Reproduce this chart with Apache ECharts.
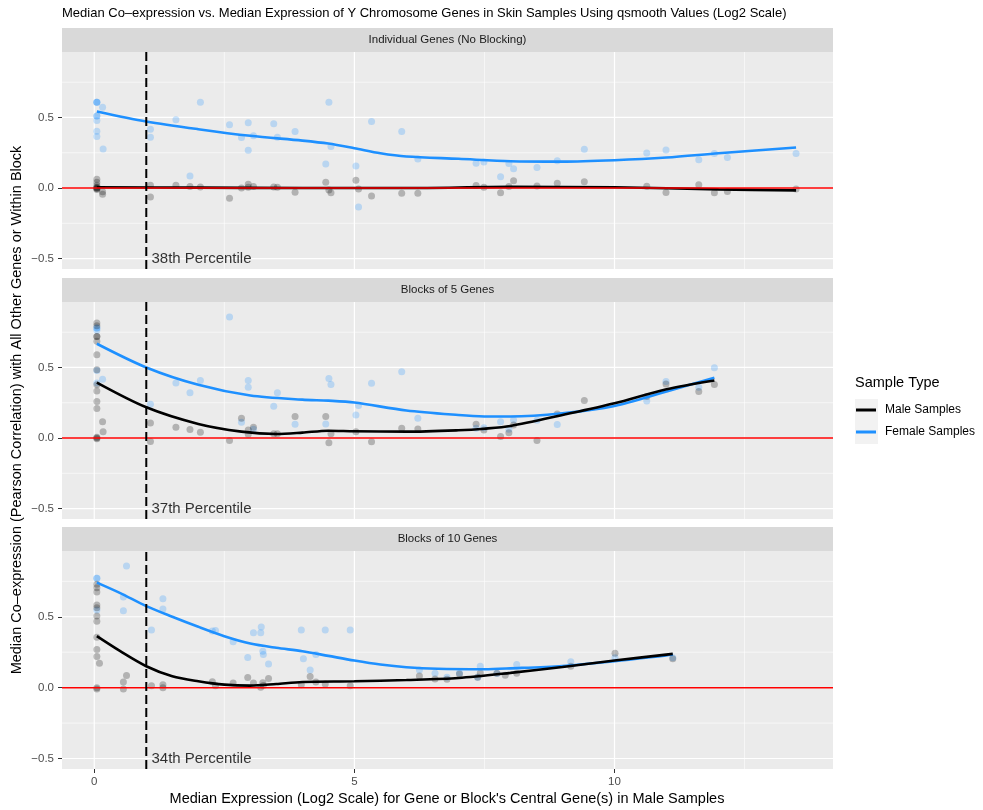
<!DOCTYPE html>
<html>
<head>
<meta charset="utf-8">
<title>Median Co-expression vs. Median Expression</title>
<script src="https://cdn.jsdelivr.net/npm/echarts@6/dist/echarts.min.js"></script>
<style>
html, body { margin: 0; padding: 0; background: #fff; }
#chart { width: 983px; height: 810px; }
</style>
</head>
<body>
<div id="chart"></div>
<script>
// tick positions (ggplot major / minor grid)
var xMajor = [0, 5, 10];
var xMinor = [2.5, 7.5, 12.5];
var yMajor = [-0.5, 0, 0.5];
var yMinor = [-0.25, 0.25, 0.75];

var panelTitles = ['Individual Genes (No Blocking)', 'Blocks of 5 Genes', 'Blocks of 10 Genes'];
var percentileLabels = ['38th Percentile', '37th Percentile', '34th Percentile'];
var cutoffX = 1;
var percentileY = -0.5;

// ---- Individual genes ----
var indivFemale = [[0.05,0.607],[0.05,0.607],[0.05,0.607],[0.16,0.573],[0.05,0.51],[0.05,0.51],[0.05,0.479],[0.05,0.403],[0.05,0.365],[0.17,0.277],
  [1.08,0.417],[1.08,0.36],[1.57,0.483],[2.04,0.607],[1.84,0.085],[2.6,0.448],[2.83,0.358],[2.96,0.462],[3.06,0.37],[2.96,0.268],
  [3.45,0.455],[3.52,0.36],[3.86,0.40],[4.51,0.607],[4.45,0.171],[4.55,0.294],[5.03,0.156],[5.08,-0.135],[5.33,0.472],[5.91,0.40],
  [6.22,0.206],[7.34,0.175],[7.49,0.185],[7.81,0.08],[7.97,0.173],[8.06,0.137],[8.51,0.145],[8.9,0.194],[9.42,0.275],[10.62,0.249],
  [10.99,0.27],[11.62,0.2],[11.92,0.244],[12.17,0.216],[13.49,0.244]];
var indivMale = [[0.05,0.062],[0.05,0.04],[0.05,0.02],[0.05,0.005],[0.05,-0.005],[0.05,-0.01],[0.05,0.0],[0.05,0.0],[0.16,-0.026],[0.16,-0.045],
  [1.08,0.02],[1.08,-0.064],[1.57,0.02],[1.84,0.01],[2.04,0.007],[2.6,-0.073],[2.83,0.0],[2.96,0.026],[2.96,0.005],[3.06,0.01],
  [3.45,0.007],[3.52,0.005],[3.86,-0.03],[4.45,0.04],[4.51,-0.014],[4.55,-0.033],[5.03,0.055],[5.08,-0.007],[5.33,-0.057],[5.91,-0.038],
  [6.22,-0.038],[7.34,0.017],[7.49,0.005],[7.81,-0.033],[7.97,0.01],[8.06,0.052],[8.51,0.014],[8.9,0.033],[9.42,0.045],[10.62,0.012],
  [10.99,-0.031],[11.62,0.024],[11.92,-0.033],[12.17,-0.024],[13.49,-0.007]];
var indivFemaleFit = [[0.05,0.543],[1,0.472],[2,0.417],[3,0.37],[4,0.336],[4.5,0.315],[5,0.282],[5.5,0.246],[6,0.223],[7,0.207],
  [8,0.19],[9,0.187],[10,0.197],[11,0.216],[12,0.246],[13.49,0.287]];
var indivMaleFit = [[0.05,0.005],[2,0.003],[4,0.0],[6,0.0],[8,0.008],[10,0.005],[12,-0.01],[13.49,-0.017]];

// ---- Blocks of 5 genes ----
var block5Female = [[0.05,0.78],[0.05,0.78],[0.05,0.763],[0.05,0.479],[0.05,0.39],[0.16,0.417],[1.08,0.24],[1.57,0.39],[1.84,0.32],[2.04,0.408],
  [2.6,0.858],[2.83,0.111],[2.96,0.408],[2.96,0.36],[3.06,0.062],[3.45,0.225],[3.52,0.32],[3.86,0.097],[4.45,0.1],[4.51,0.422],
  [4.55,0.38],[5.03,0.163],[5.08,0.23],[5.33,0.389],[5.91,0.469],[6.22,0.14],[7.34,0.069],[7.49,0.073],[7.81,0.116],[7.97,0.062],
  [8.06,0.128],[8.51,0.126],[8.9,0.095],[10.62,0.263],[10.99,0.4],[11.62,0.36],[11.92,0.498]];
var block5Male = [[0.05,0.815],[0.05,0.796],[0.05,0.72],[0.05,0.72],[0.05,0.685],[0.05,0.59],[0.05,0.483],[0.05,0.377],[0.05,0.334],[0.05,0.258],
  [0.05,0.21],[0.05,0.005],[0.05,-0.005],[0.05,0.0],[0.16,0.116],[0.17,0.045],[1.08,0.107],[1.08,-0.024],[1.57,0.076],[1.84,0.06],
  [2.04,0.04],[2.6,-0.017],[2.83,0.14],[2.96,0.057],[2.96,0.026],[3.06,0.076],[3.45,0.031],[3.52,0.031],[3.86,0.152],[4.45,0.152],
  [4.51,-0.033],[4.55,0.031],[5.03,0.045],[5.33,-0.026],[5.91,0.069],[6.22,0.064],[7.34,0.097],[7.49,0.057],[7.81,0.01],[7.97,0.038],
  [8.06,0.092],[8.51,-0.017],[8.9,0.171],[9.42,0.265],[10.62,0.294],[10.99,0.382],[11.62,0.33],[11.92,0.379]];
var block5FemaleFit = [[0.05,0.668],[1,0.5],[2,0.377],[3,0.301],[4,0.272],[4.5,0.265],[5,0.252],[6,0.195],[7,0.163],[7.5,0.153],
  [8,0.152],[9,0.175],[10,0.227],[11,0.33],[11.92,0.427]];
var block5MaleFit = [[0.05,0.393],[1,0.218],[2,0.1],[2.83,0.045],[3.5,0.028],[4,0.038],[4.5,0.052],[5,0.048],[6,0.045],[7,0.055],
  [7.5,0.066],[8,0.085],[9,0.163],[10,0.246],[11,0.346],[11.92,0.408]];

// ---- Blocks of 10 genes ----
var block10Female = [[0.05,0.771],[0.05,0.771],[0.05,0.547],[0.62,0.858],[0.56,0.64],[0.56,0.542],[1.1,0.406],[1.32,0.627],[1.32,0.554],[2.27,0.399],
  [2.33,0.403],[2.67,0.323],[2.95,0.212],[3.06,0.387],[3.2,0.387],[3.21,0.427],[3.24,0.257],[3.25,0.233],[3.35,0.167],[3.98,0.406],
  [4.02,0.203],[4.15,0.125],[4.26,0.233],[4.44,0.406],[4.92,0.406],[6.25,0.125],[6.55,0.101],[6.78,0.073],[7.02,0.104],[7.42,0.151],
  [7.37,0.073],[7.74,0.099],[8.12,0.163],[9.16,0.182],[10.01,0.21],[11.12,0.21]];
var block10Male = [[0.05,0.729],[0.05,0.705],[0.05,0.675],[0.05,0.583],[0.05,0.564],[0.05,0.505],[0.05,0.469],[0.05,0.356],[0.05,0.269],[0.05,0.219],
  [0.1,0.172],[0.05,0.0],[0.05,-0.01],[0.56,0.04],[0.56,-0.01],[0.62,0.085],[1.1,0.014],[1.32,0.02],[1.32,0.0],[2.27,0.042],
  [2.33,0.014],[2.67,0.033],[2.95,0.071],[3.06,0.033],[3.2,0.002],[3.24,0.035],[3.25,0.015],[3.35,0.064],[3.98,0.021],[4.15,0.078],
  [4.26,0.04],[4.44,0.026],[4.92,0.014],[6.25,0.083],[6.55,0.061],[6.78,0.059],[7.02,0.097],[7.37,0.073],[7.42,0.104],[7.74,0.101],
  [7.9,0.087],[8.12,0.101],[9.16,0.151],[10.01,0.243],[11.12,0.203]];
var block10FemaleFit = [[0.05,0.741],[0.5,0.667],[1,0.575],[1.5,0.5],[2,0.429],[2.5,0.363],[3,0.311],[3.5,0.281],[4,0.257],[4.5,0.224],
  [5,0.191],[5.5,0.163],[6,0.144],[6.6,0.133],[7.5,0.13],[8,0.136],[9,0.153],[10,0.186],[11.12,0.233]];
var block10MaleFit = [[0.05,0.363],[0.5,0.257],[1,0.151],[1.5,0.08],[2,0.045],[2.5,0.021],[3,0.014],[3.5,0.026],[4,0.04],[5,0.045],
  [6,0.054],[7,0.068],[8,0.104],[9,0.146],[10,0.191],[11.12,0.238]];

var panels = [
  { male: indivMale, female: indivFemale, maleFit: indivMaleFit, femaleFit: indivFemaleFit },
  { male: block5Male, female: block5Female, maleFit: block5MaleFit, femaleFit: block5FemaleFit },
  { male: block10Male, female: block10Female, maleFit: block10MaleFit, femaleFit: block10FemaleFit }
];

var FONT = 'Liberation Sans, Arial, sans-serif';
var PLOT_LEFT = 62, PLOT_W = 771;
var gridTops = [52, 302, 551];
var gridHeights = [217, 217, 218];
var X_MIN = -0.62, X_MAX = 14.2;
var Y_MIN = -0.574, Y_MAX = 0.964;

var myChart = echarts.init(document.getElementById('chart'));

var grids = [], xAxes = [], yAxes = [], series = [], graphics = [];

function yFmt(v) {
  if (v === 0) return '0.0';
  return (v < 0 ? '\u2212' : '') + Math.abs(v).toFixed(1);
}

// straight guide line (gridline / reference line) across the panel, through the axis scales
function guide(i, isVertical, v, style, z) {
  return {
    type: 'line', xAxisIndex: i, yAxisIndex: i, silent: true, z: z,
    symbol: 'none', showSymbol: false, lineStyle: style,
    data: isVertical ? [[v, Y_MIN], [v, Y_MAX]] : [[X_MIN, v], [X_MAX, v]]
  };
}

panels.forEach(function (p, i) {
  var last = i === panels.length - 1;
  grids.push({
    left: PLOT_LEFT, top: gridTops[i], width: PLOT_W, height: gridHeights[i],
    show: true, backgroundColor: '#EBEBEB', borderWidth: 0
  });
  xAxes.push({
    gridIndex: i, type: 'value', min: X_MIN, max: X_MAX, position: 'bottom',
    splitLine: { show: false },
    axisLine: { show: false, onZero: false },
    axisTick: { show: last, customValues: xMajor, length: 4, lineStyle: { color: '#333', width: 1 } },
    axisLabel: { show: last, customValues: xMajor, color: '#4D4D4D', fontSize: 11.5, fontFamily: FONT, margin: 7 }
  });
  yAxes.push({
    gridIndex: i, type: 'value', min: Y_MIN, max: Y_MAX, position: 'left',
    splitLine: { show: false },
    axisLine: { show: false, onZero: false },
    axisTick: { show: true, customValues: yMajor, length: 4, lineStyle: { color: '#333', width: 1 } },
    axisLabel: { customValues: yMajor, formatter: yFmt, color: '#4D4D4D', fontSize: 11.5, fontFamily: FONT, margin: 8 }
  });

  // panel gridlines
  xMinor.forEach(function (v) { series.push(guide(i, true, v, { color: '#fff', width: 0.6 }, 1)); });
  yMinor.forEach(function (v) { series.push(guide(i, false, v, { color: '#fff', width: 0.6 }, 1)); });
  xMajor.forEach(function (v) { series.push(guide(i, true, v, { color: '#fff', width: 1.2 }, 1)); });
  yMajor.forEach(function (v) { series.push(guide(i, false, v, { color: '#fff', width: 1.2 }, 1)); });

  series.push({
    type: 'scatter', xAxisIndex: i, yAxisIndex: i, silent: true, z: 10,
    symbolSize: 7, itemStyle: { color: 'rgba(30,144,255,0.3)' },
    data: p.female
  });
  series.push({
    type: 'scatter', xAxisIndex: i, yAxisIndex: i, silent: true, z: 10,
    symbolSize: 7, itemStyle: { color: 'rgba(0,0,0,0.3)' },
    data: p.male
  });
  series.push({
    name: 'Female Samples', type: 'line', xAxisIndex: i, yAxisIndex: i, silent: true, z: 11,
    smooth: 0.3, showSymbol: false, symbol: 'none',
    lineStyle: { color: '#1E90FF', width: 2.6 }, itemStyle: { color: '#1E90FF' },
    data: p.femaleFit
  });
  series.push({
    name: 'Male Samples', type: 'line', xAxisIndex: i, yAxisIndex: i, silent: true, z: 12,
    smooth: 0.3, showSymbol: false, symbol: 'none',
    lineStyle: { color: '#000', width: 2.6 }, itemStyle: { color: '#000' },
    data: p.maleFit
  });

  // zero line and percentile cutoff
  series.push(guide(i, false, 0, { color: '#FF0000', width: 1.5 }, 13));
  series.push(guide(i, true, cutoffX, { color: '#000', width: 2, type: [9, 4] }, 13));
  series.push({
    type: 'scatter', xAxisIndex: i, yAxisIndex: i, silent: true, z: 14,
    symbolSize: 0,
    label: {
      show: true, position: 'right', distance: 0,
      formatter: percentileLabels[i], color: '#000', fontSize: 15, fontFamily: FONT
    },
    data: [[cutoffX + 0.1, percentileY]]
  });

  // facet strip
  graphics.push({
    type: 'rect', silent: true,
    shape: { x: PLOT_LEFT, y: gridTops[i] - 24, width: PLOT_W, height: 24 },
    style: { fill: '#D9D9D9' }
  });
  graphics.push({
    type: 'text', silent: true, x: PLOT_LEFT + PLOT_W / 2, y: gridTops[i] - 12,
    style: { text: panelTitles[i], fill: '#1A1A1A', fontSize: 11.5, fontFamily: FONT, align: 'center', verticalAlign: 'middle' }
  });
});

// titles and legend header
graphics.push({
  type: 'text', silent: true, x: 62, y: 13,
  style: { text: 'Median Co\u2013expression vs. Median Expression of Y Chromosome Genes in Skin Samples Using qsmooth Values (Log2 Scale)',
    fill: '#000', fontSize: 13, fontFamily: FONT, align: 'left', verticalAlign: 'middle' }
});
graphics.push({
  type: 'text', silent: true, x: 17, y: 410, rotation: Math.PI / 2,
  style: { text: 'Median Co\u2013expression (Pearson Correlation) with All Other Genes or Within Block',
    fill: '#000', fontSize: 14.5, fontFamily: FONT, align: 'center', verticalAlign: 'middle' }
});
graphics.push({
  type: 'text', silent: true, x: 447, y: 799,
  style: { text: "Median Expression (Log2 Scale) for Gene or Block's Central Gene(s) in Male Samples",
    fill: '#000', fontSize: 14.5, fontFamily: FONT, align: 'center', verticalAlign: 'middle' }
});
graphics.push({
  type: 'text', silent: true, x: 855, y: 383,
  style: { text: 'Sample Type', fill: '#000', fontSize: 14.5, fontFamily: FONT, align: 'left', verticalAlign: 'middle' }
});
graphics.push({
  type: 'rect', silent: true, z: -1,
  shape: { x: 855, y: 399, width: 23, height: 45 },
  style: { fill: '#F2F2F2' }
});

option = {
  animation: false,
  backgroundColor: '#fff',
  grid: grids,
  xAxis: xAxes,
  yAxis: yAxes,
  legend: {
    data: ['Male Samples', 'Female Samples'],
    orient: 'vertical', left: 856, top: 404, padding: 0,
    itemWidth: 20, itemHeight: 3, itemGap: 10, icon: 'rect',
    selectedMode: false,
    textStyle: { color: '#000', fontSize: 12, fontFamily: FONT, padding: [0, 0, 0, 4] }
  },
  graphic: graphics,
  series: series
};

myChart.setOption(option);
window.addEventListener('resize', function () {
  myChart.resize();
});
</script>
</body>
</html>
